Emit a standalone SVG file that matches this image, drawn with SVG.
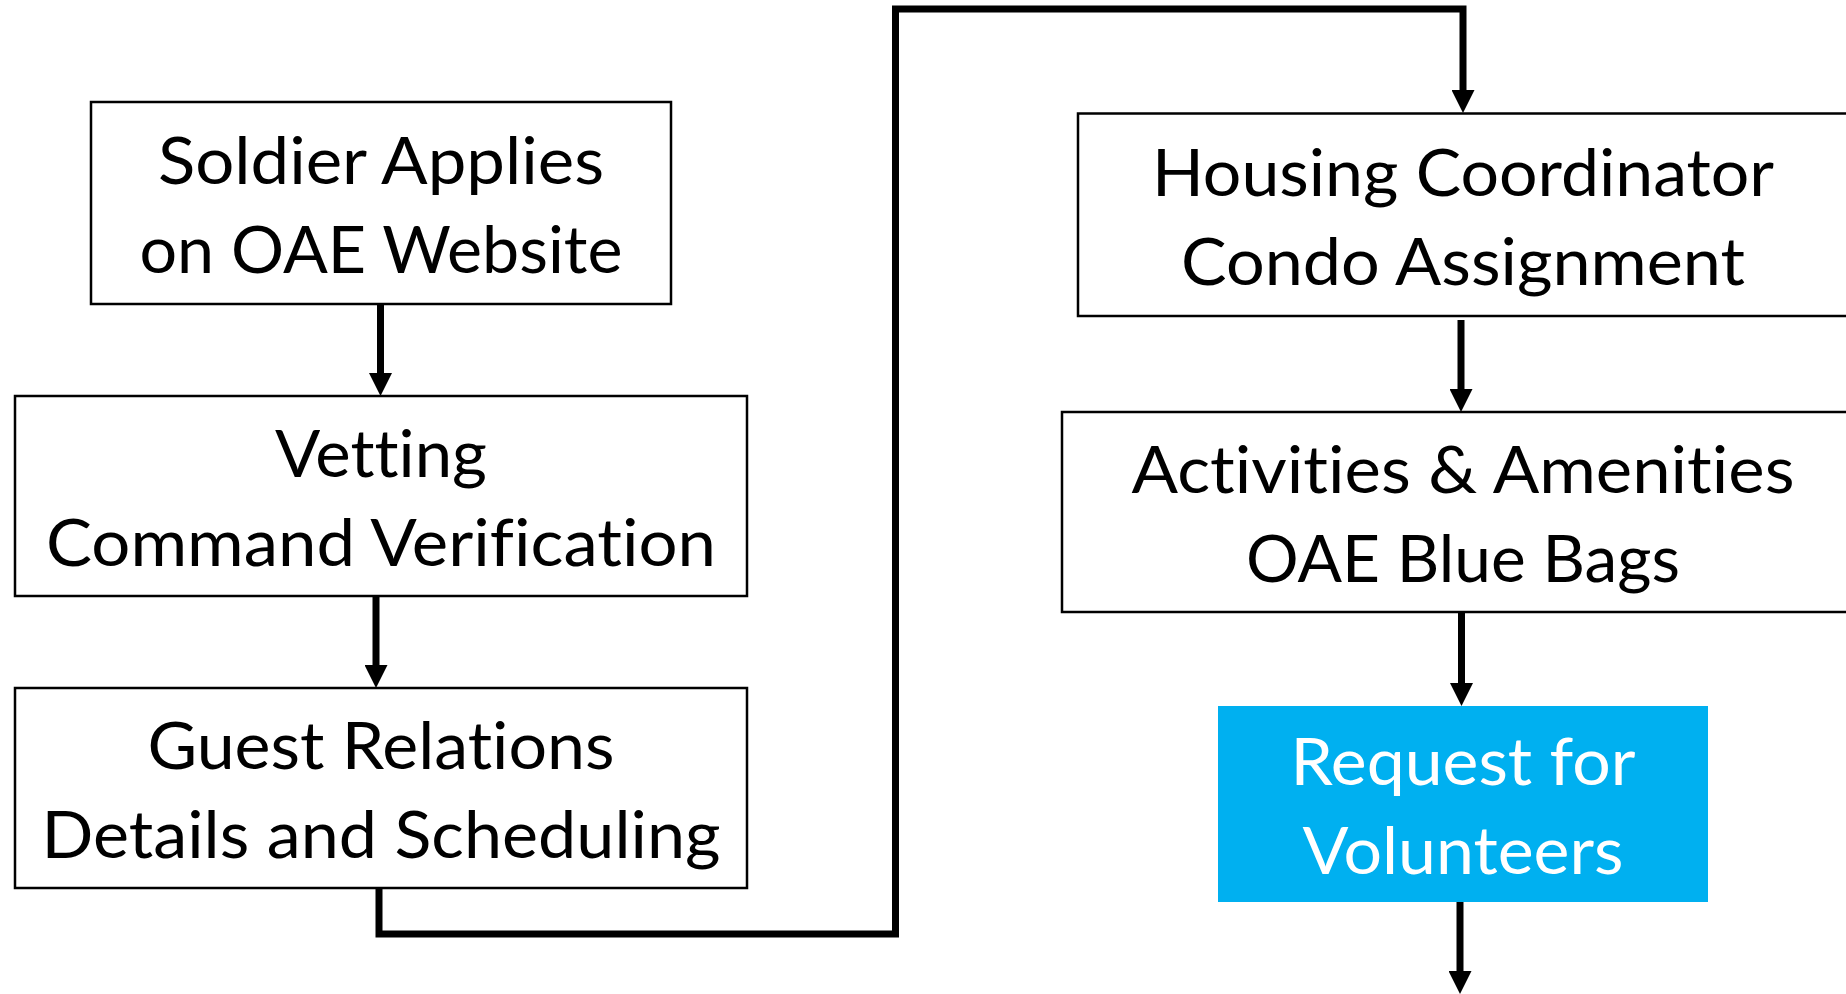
<svg xmlns="http://www.w3.org/2000/svg" width="1846" height="994" viewBox="0 0 1846 994">
  <style>
    .box { fill: #ffffff; stroke: #000000; stroke-width: 2.5; }
    .blue { fill: #00B0F0; stroke: none; }
    .t { font-family: Lato, "Open Sans", "Liberation Sans", sans-serif; font-size: 66px; fill: #000000; text-anchor: middle; font-variant-ligatures: none; font-feature-settings: "liga" 0, "clig" 0; }
    .w { fill: #ffffff; }
    .conn { fill: none; stroke: #000000; stroke-width: 7; stroke-linejoin: miter; stroke-linecap: butt; }
  </style>
  <defs>
    <marker id="arrow" markerUnits="userSpaceOnUse" markerWidth="23" markerHeight="23" refX="10" refY="11.5" orient="auto" viewBox="0 0 23 23">
      <path d="M0,0 L23,11.5 L0,23 Z" fill="#000000"/>
    </marker>
  </defs>
  <rect width="1846" height="994" fill="#ffffff"/>

  <g id="connectors">
    <path class="conn" d="M380.5,304 V383" marker-end="url(#arrow)"/>
    <path class="conn" d="M376,596 V675" marker-end="url(#arrow)"/>
    <path class="conn" d="M379,888 V934 H895.5 V9 H1463 V100" marker-end="url(#arrow)"/>
    <path class="conn" d="M1461,320 V399" marker-end="url(#arrow)"/>
    <path class="conn" d="M1461.5,612 V693" marker-end="url(#arrow)"/>
    <path class="conn" d="M1460,902 V981" marker-end="url(#arrow)"/>
  </g>

  <g id="node-soldier">
    <rect class="box" x="91" y="102" width="580" height="202"/>
    <text class="t" x="381" y="184" textLength="446" lengthAdjust="spacingAndGlyphs">Soldier Applies</text>
    <text class="t" x="381" y="273" textLength="483" lengthAdjust="spacingAndGlyphs">on OAE Website</text>
  </g>

  <g id="node-vetting">
    <rect class="box" x="15" y="396" width="732" height="200"/>
    <text class="t" x="381" y="477" textLength="212" lengthAdjust="spacingAndGlyphs">Vetting</text>
    <text class="t" x="381" y="566" textLength="670" lengthAdjust="spacingAndGlyphs">Command Verification</text>
  </g>

  <g id="node-guest">
    <rect class="box" x="15" y="688" width="732" height="200"/>
    <text class="t" x="381" y="769" textLength="467" lengthAdjust="spacingAndGlyphs">Guest Relations</text>
    <text class="t" x="381" y="858" textLength="679" lengthAdjust="spacingAndGlyphs">Details and Scheduling</text>
  </g>

  <g id="node-housing">
    <rect class="box" x="1078" y="113.5" width="780" height="202.5"/>
    <text class="t" x="1463" y="196" textLength="622" lengthAdjust="spacingAndGlyphs">Housing Coordinator</text>
    <text class="t" x="1463" y="285" textLength="564" lengthAdjust="spacingAndGlyphs">Condo Assignment</text>
  </g>

  <g id="node-activities">
    <rect class="box" x="1062" y="412" width="810" height="200"/>
    <text class="t" x="1463" y="493" textLength="663" lengthAdjust="spacingAndGlyphs">Activities &amp; Amenities</text>
    <text class="t" x="1463" y="582" textLength="434" lengthAdjust="spacingAndGlyphs">OAE Blue Bags</text>
  </g>

  <g id="node-volunteers">
    <rect class="blue" x="1218" y="706" width="490" height="196"/>
    <text class="t w" x="1463" y="785" textLength="345" lengthAdjust="spacingAndGlyphs">Request for</text>
    <text class="t w" x="1463" y="874" textLength="321" lengthAdjust="spacingAndGlyphs">Volunteers</text>
  </g>
</svg>
